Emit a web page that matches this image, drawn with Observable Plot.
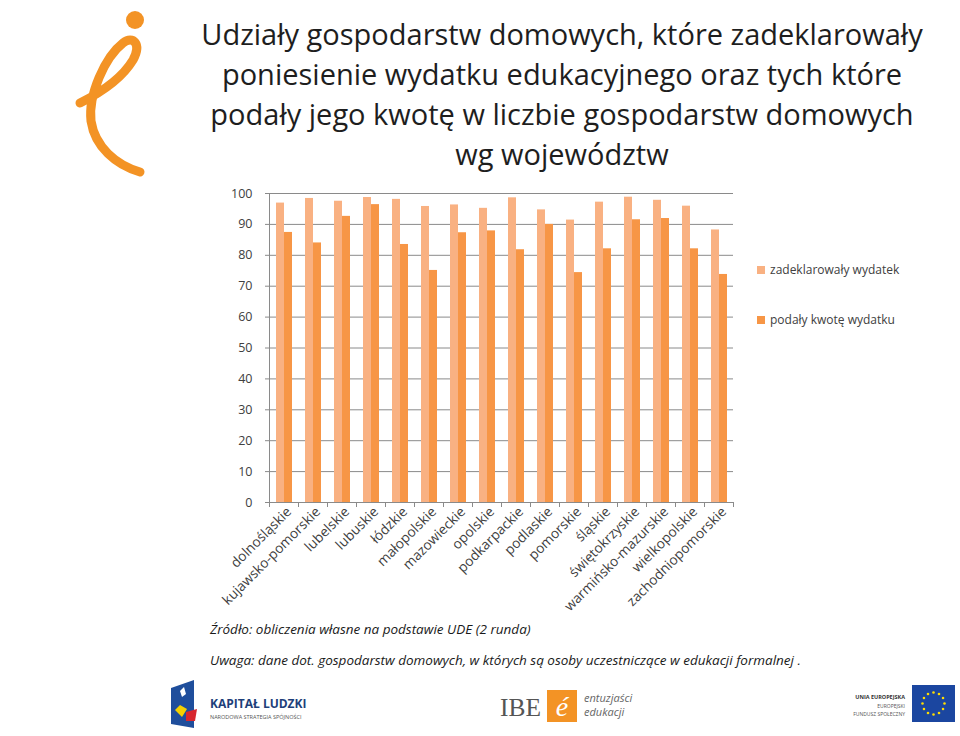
<!DOCTYPE html>
<html>
<head>
<meta charset="utf-8">
<script src="https://cdn.jsdelivr.net/npm/d3@7"></script>
<script src="https://cdn.jsdelivr.net/npm/@observablehq/plot@0.6"></script>
<style>
  html, body { margin: 0; padding: 0; background: #fff; }
  #page { position: relative; width: 960px; height: 736px; overflow: hidden; font-family: "Open Sans", sans-serif; }
  #chart { position: absolute; left: 0; top: 0; }
  .abs { position: absolute; }
  #title { left: 180px; width: 764px; top: 14px; text-align: center; font-size: 29px; line-height: 40px; color: #1e1e1e; white-space: nowrap; }
  .legend-item { position: absolute; left: 757px; font-size: 12px; color: #404040; line-height: 16px; white-space: nowrap; }
  .legend-item span.sw { display: inline-block; width: 8px; height: 8px; margin-right: 5px; vertical-align: 0px; }
  .note { left: 210px; font-size: 13.5px; font-style: italic; color: #1a1a1a; white-space: nowrap; }
</style>
</head>
<body>
<div id="page">
  <div id="chart"></div>
  <svg class="abs" style="left:0;top:0" width="200" height="185">
    <circle cx="135" cy="20" r="9" fill="#F39325"/>
    <path d="M80,103 C96,95 121,80 133,60 C142,44 133,35 123,43 C105,57 88,95 91,121 C95,147 116,165 140,172" fill="none" stroke="#F39325" stroke-width="9" stroke-linecap="round"/>
  </svg>
  <div id="title" class="abs"></div>
  <div id="legend"></div>
  <div class="abs note" id="note1" style="top:620px"></div>
  <div class="abs note" id="note2" style="top:651px"></div>
  <svg class="abs" style="left:0;top:676px" width="960" height="60">
    <polygon points="171,12 194,4 194,52 171,48" fill="#1f4e9c"/>
    <polygon points="175,34 180,29 187,33 182,41" fill="#f5d000"/>
    <polygon points="186,36 197,33 195,45 186,45" fill="#d7262e"/>
    <polygon points="180,15 184,11 186,18 182,21" fill="#fff"/>
    <text x="210" y="32" font-family="Open Sans" font-weight="700" font-size="12" fill="#1e3f7a">KAPITAŁ LUDZKI</text>
    <text x="210" y="43" font-family="Open Sans" font-size="5.5" fill="#555">NARODOWA STRATEGIA SPÓJNOŚCI</text>
    <text x="500" y="40" font-family="Liberation Serif" font-size="26" fill="#555" textLength="41" lengthAdjust="spacingAndGlyphs">IBE</text>
    <rect x="547" y="14" width="30" height="32" fill="#F39325"/>
    <text x="562" y="40" text-anchor="middle" font-family="Liberation Serif" font-style="italic" font-size="28" fill="#fff">é</text>
    <text x="584" y="26" font-family="Open Sans" font-style="italic" font-size="11" fill="#666">entuzjaści</text>
    <text x="584" y="40" font-family="Open Sans" font-style="italic" font-size="11" fill="#666">edukacji</text>
    <text x="905" y="23" text-anchor="end" font-family="Open Sans" font-weight="700" font-size="5.5" fill="#333">UNIA EUROPEJSKA</text>
    <text x="905" y="32" text-anchor="end" font-family="Open Sans" font-size="5" fill="#555">EUROPEJSKI</text>
    <text x="905" y="40" text-anchor="end" font-family="Open Sans" font-size="5" fill="#555">FUNDUSZ SPOŁECZNY</text>
    <rect x="912" y="9" width="43" height="37" fill="#1b46a0"/>
    <g id="stars"></g>
  </svg>
</div>
<script>
// ---- data ----
const regions = ["dolnośląskie", "kujawsko-pomorskie", "lubelskie", "lubuskie", "łódzkie", "małopolskie", "mazowieckie", "opolskie", "podkarpackie", "podlaskie", "pomorskie", "śląskie", "świętokrzyskie", "warmińsko-mazurskie", "wielkopolskie", "zachodniopomorskie"];
const seriesNames = ["zadeklarowały wydatek", "podały kwotę wydatku"];
const zadeklarowaly = [96.9, 98.4, 97.5, 98.7, 98.1, 95.8, 96.3, 95.2, 98.6, 94.7, 91.4, 97.2, 98.8, 97.8, 95.9, 88.2];
const podalyKwote  = [87.4, 84.0, 92.6, 96.4, 83.5, 75.1, 87.3, 87.9, 81.8, 90.0, 74.4, 82.1, 91.5, 91.9, 82.1, 73.8];
const yTicks = [0, 10, 20, 30, 40, 50, 60, 70, 80, 90, 100];
const titleLines = ["Udziały gospodarstw domowych, które zadeklarowały", "poniesienie wydatku edukacyjnego oraz tych które", "podały jego kwotę w liczbie gospodarstw domowych", "wg województw"];
const sourceText = "Źródło: obliczenia własne na podstawie UDE (2 runda)";
const noteText = "Uwaga: dane dot. gospodarstw domowych, w których są osoby uczestniczące w edukacji formalnej .";

const colors = ["#F9B182", "#F79646"];
const gray = "#8a8a8a";
const textColor = "#404040";

const rows = [];
regions.forEach((r, i) => {
  rows.push({region: r, series: seriesNames[0], value: zadeklarowaly[i]});
  rows.push({region: r, series: seriesNames[1], value: podalyKwote[i]});
});

const W = 960, H = 736;
const mL = 262, mR = 221, mT = 193, mB = 234;
const plotH = H - mT - mB;

const chart = Plot.plot({
  width: W, height: H,
  marginLeft: mL, marginRight: mR, marginTop: mT, marginBottom: mB,
  style: {fontFamily: "Open Sans", fontSize: "12px", color: textColor, background: "transparent"},
  fx: {domain: regions, padding: 0, label: null, axis: null},
  x: {domain: seriesNames, paddingInner: 0, paddingOuter: 0.755, axis: null},
  y: {domain: [0, 100], ticks: yTicks, label: null},
  color: {domain: seriesNames, range: colors},
  marks: [
    Plot.gridY(yTicks, {stroke: gray, strokeOpacity: 1}),
    Plot.barY(rows, {fx: "region", x: "series", y: "value", fill: "series"}),
    Plot.ruleY([0], {stroke: gray}),
    Plot.frame({anchor: "left", facetAnchor: "left", stroke: gray}),
    Plot.frame({anchor: "left", stroke: gray, insetTop: plotH, insetBottom: -4}),
    Plot.frame({anchor: "right", facetAnchor: "right", stroke: gray, insetTop: plotH, insetBottom: -4}),
    Plot.axisY(yTicks, {tickSize: 4, tickPadding: 13, stroke: gray, fill: textColor, fontSize: 12.5, label: null}),
    Plot.axisFx({anchor: "bottom", tickRotate: -45, tickSize: 0, tickPadding: 7, dx: 5, fill: textColor, fontSize: 13.7, label: null})
  ]
});
document.getElementById("chart").appendChild(chart);

document.getElementById("title").innerHTML = titleLines.map(t => `<div>${t}</div>`).join("");
document.getElementById("note1").textContent = sourceText;
document.getElementById("note2").textContent = noteText;

const leg = document.getElementById("legend");
seriesNames.forEach((s, i) => {
  const d = document.createElement("div");
  d.className = "legend-item";
  d.style.top = (262 + i * 50) + "px";
  d.innerHTML = `<span class="sw" style="background:${colors[i]}"></span>${s}`;
  leg.appendChild(d);
});

const g = document.getElementById("stars");
for (let k = 0; k < 12; k++) {
  const a = k * Math.PI / 6;
  const c = document.createElementNS("http://www.w3.org/2000/svg", "circle");
  c.setAttribute("cx", 933.5 + 11 * Math.cos(a));
  c.setAttribute("cy", 27.5 + 11 * Math.sin(a));
  c.setAttribute("r", 1.3);
  c.setAttribute("fill", "#ffdd00");
  g.appendChild(c);
}
</script>
</body>
</html>
